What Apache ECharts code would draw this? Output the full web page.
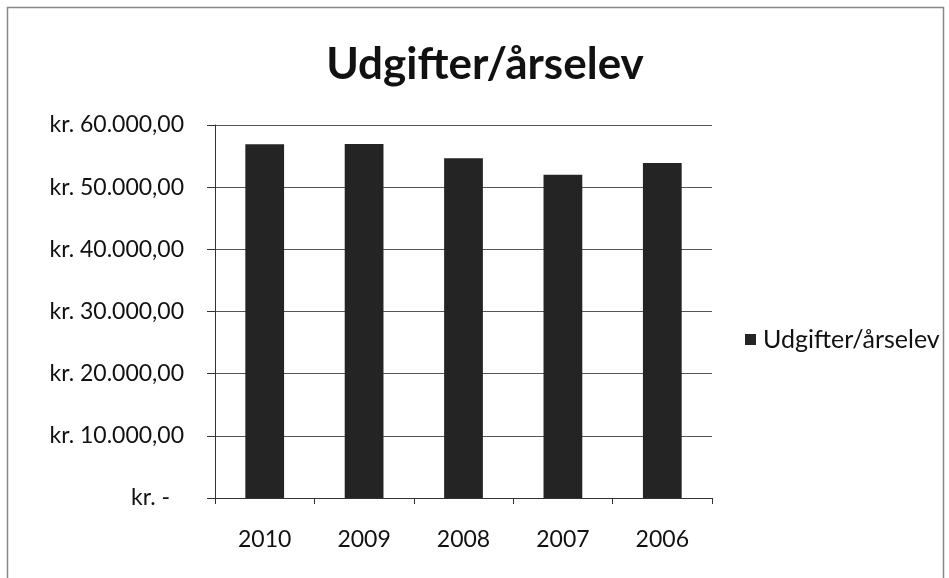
<!DOCTYPE html>
<html>
<head>
<meta charset="utf-8">
<script src="https://cdn.jsdelivr.net/npm/echarts@6/dist/echarts.min.js"></script>
<style>
html,body{margin:0;padding:0;background:#fff;}
#c{width:949px;height:578px;}
</style>
</head>
<body>
<div id="c"></div>
<script>
const categories = ['2010', '2009', '2008', '2007', '2006'];
const seriesName = 'Udgifter/årselev';
const values = [56900, 56950, 54650, 52000, 53900];
const yTickValues = [0, 10000, 20000, 30000, 40000, 50000, 60000];
const yTickLabels = ['kr. -', 'kr. 10.000,00', 'kr. 20.000,00', 'kr. 30.000,00', 'kr. 40.000,00', 'kr. 50.000,00', 'kr. 60.000,00'];

const font = 'Lato, "Open Sans", sans-serif';
const chart = echarts.init(document.getElementById('c'), null, {renderer: 'canvas'});
chart.setOption({
  animation: false,
  backgroundColor: '#fff',
  graphic: [{
    type: 'rect',
    shape: {x: 7.5, y: 7.5, width: 936, height: 600},
    style: {fill: 'none', stroke: '#888', lineWidth: 1.5}
  }],
  title: {
    text: 'Udgifter/årselev',
    left: 480, top: 38, textAlign: 'center',
    textStyle: {fontFamily: font, fontSize: 44, fontWeight: 'bold', color: '#111'}
  },
  legend: {
    data: [seriesName],
    left: 740, top: 322,
    itemWidth: 11, itemHeight: 11,
    icon: 'rect',
    textStyle: {fontFamily: font, fontSize: 25, color: '#111', padding: [0, 0, 0, 2]}
  },
  grid: {left: 215, top: 125, right: 237, bottom: 80, containLabel: false},
  xAxis: {
    type: 'category',
    data: categories,
    axisLine: {lineStyle: {color: '#333', width: 1}},
    axisTick: {show: true, length: 6, lineStyle: {color: '#333'}},
    axisLabel: {fontFamily: font, fontSize: 23, color: '#111', margin: 30}
  },
  yAxis: {
    type: 'value',
    min: 0, max: 60000, interval: 10000,
    axisLine: {show: true, lineStyle: {color: '#333', width: 1}},
    axisTick: {show: true, length: 8, lineStyle: {color: '#333'}},
    splitLine: {lineStyle: {color: '#555', width: 1}},
    axisLabel: {
      fontFamily: font, fontSize: 23, color: '#111', margin: 31,
      formatter: function (v) {
        const i = yTickValues.indexOf(v);
        if (i < 0) return '';
        return v === 0 ? '{z|' + yTickLabels[i] + '}' : yTickLabels[i];
      },
      rich: {z: {fontFamily: font, fontSize: 23, color: '#111', padding: [0, 14, 0, 0]}}
    }
  },
  series: [{
    name: seriesName,
    type: 'bar',
    data: values,
    barWidth: '39%',
    itemStyle: {color: '#242424'}
  }]
});
</script>
</body>
</html>
